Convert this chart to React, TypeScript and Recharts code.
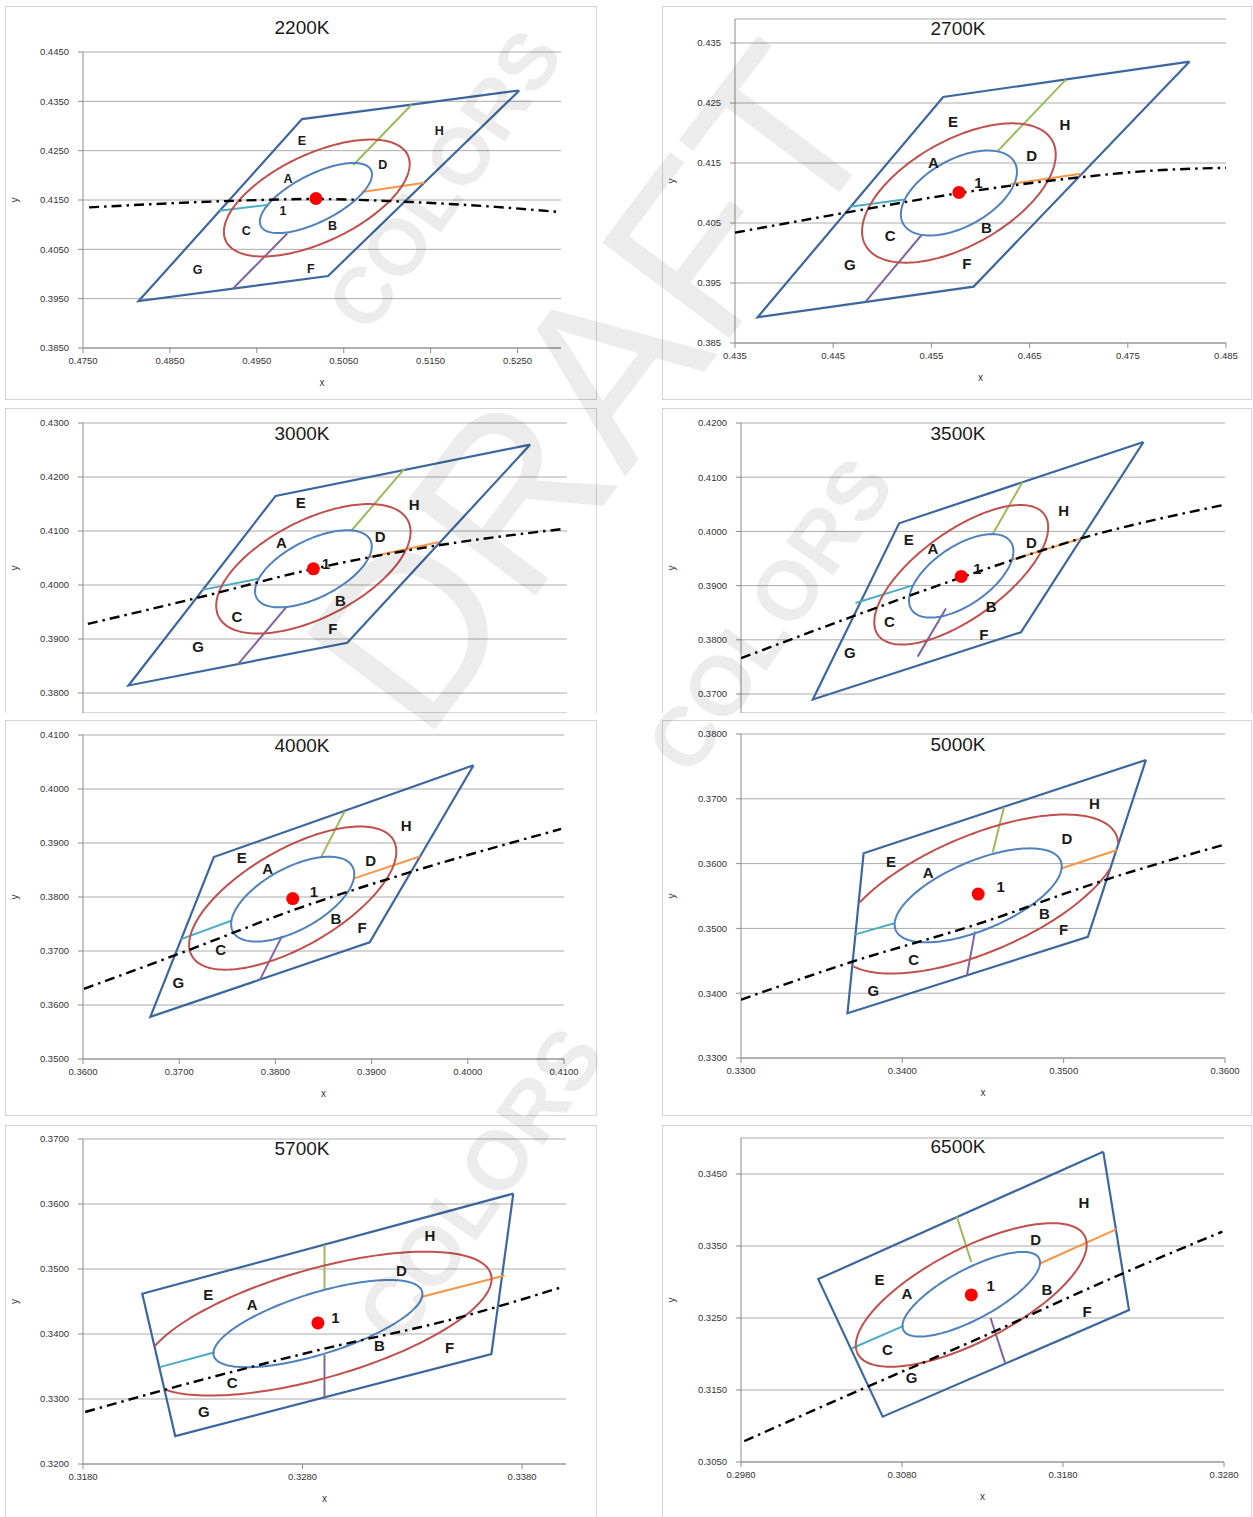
import React from 'react';
import { ScatterChart, Scatter, XAxis, YAxis, CartesianGrid } from 'recharts';

type P = [number, number];

// ---- data ----
const cctNames = ['2200K', '2700K', '3000K', '3500K', '4000K', '5000K', '5700K', '6500K'];

const xDomains: P[] = [[0.475, 0.53], [0.435, 0.485], [0.41, 0.46], [0.38, 0.44], [0.36, 0.41], [0.33, 0.36], [0.318, 0.34], [0.298, 0.328]];
const yDomains: P[] = [[0.385, 0.445], [0.385, 0.439], [0.3763, 0.43], [0.3665, 0.42], [0.35, 0.41], [0.33, 0.38], [0.32, 0.37], [0.305, 0.35]];

const xTickSets: number[][] = [
  [0.475, 0.485, 0.495, 0.505, 0.515, 0.525],
  [0.435, 0.445, 0.455, 0.465, 0.475, 0.485],
  [0.41, 0.42, 0.43, 0.44, 0.45, 0.46],
  [0.38, 0.39, 0.4, 0.41, 0.42, 0.43, 0.44],
  [0.36, 0.37, 0.38, 0.39, 0.4, 0.41],
  [0.33, 0.34, 0.35, 0.36],
  [0.318, 0.328, 0.338],
  [0.298, 0.308, 0.318, 0.328],
];
const yTickSets: number[][] = [
  [0.385, 0.395, 0.405, 0.415, 0.425, 0.435, 0.445],
  [0.385, 0.395, 0.405, 0.415, 0.425, 0.435],
  [0.38, 0.39, 0.4, 0.41, 0.42, 0.43],
  [0.37, 0.38, 0.39, 0.4, 0.41, 0.42],
  [0.35, 0.36, 0.37, 0.38, 0.39, 0.4, 0.41],
  [0.33, 0.34, 0.35, 0.36, 0.37, 0.38],
  [0.32, 0.33, 0.34, 0.35, 0.36, 0.37],
  [0.305, 0.315, 0.325, 0.335, 0.345],
];
const tickDecimals = [4, 3, 4, 4, 4, 4, 4, 4];

// quadrangle corners: top-right, top-left, bottom-left, bottom-right
const quads: P[][] = [
  [[0.5252, 0.4372], [0.5002, 0.4314], [0.4814, 0.3945], [0.5032, 0.3996]],
  [[0.4813, 0.4319], [0.4562, 0.426], [0.4373, 0.3893], [0.4593, 0.3944]],
  [[0.4562, 0.426], [0.4299, 0.4165], [0.4147, 0.3814], [0.4373, 0.3893]],
  [[0.4299, 0.4165], [0.3996, 0.4015], [0.3889, 0.369], [0.4147, 0.3814]],
  [[0.4006, 0.4044], [0.3736, 0.3874], [0.367, 0.3578], [0.3898, 0.3716]],
  [[0.3551, 0.376], [0.3376, 0.3616], [0.3366, 0.3369], [0.3515, 0.3487]],
  [[0.3376, 0.3616], [0.3207, 0.3462], [0.3222, 0.3243], [0.3366, 0.3369]],
  [[0.3205, 0.3481], [0.3028, 0.3304], [0.3068, 0.3113], [0.3221, 0.3261]],
];

// ellipses: [cx, cy, x half-extent, y half-extent, tilt correlation]
const innerEllipses: number[][] = [
  [0.5018, 0.4154, 0.00645, 0.00711, 0.67],
  [0.4578, 0.41, 0.00591, 0.00708, 0.5],
  [0.4338, 0.403, 0.00603, 0.00714, 0.58],
  [0.4073, 0.3918, 0.00647, 0.0077, 0.59],
  [0.3818, 0.3796, 0.0064, 0.00786, 0.59],
  [0.3447, 0.3551, 0.00518, 0.00725, 0.62],
  [0.3287, 0.3416, 0.00476, 0.00671, 0.68],
  [0.3123, 0.3283, 0.00427, 0.00588, 0.75],
];
const outerEllipses: number[][] = [
  [0.5019, 0.4154, 0.01069, 0.01185, 0.58],
  [0.4578, 0.41, 0.00986, 0.01161, 0.55],
  [0.4338, 0.403, 0.01004, 0.01199, 0.57],
  [0.4073, 0.392, 0.01078, 0.01287, 0.68],
  [0.3818, 0.3798, 0.01077, 0.01326, 0.65],
  [0.3447, 0.3553, 0.00868, 0.01227, 0.62],
  [0.3287, 0.3416, 0.00791, 0.01107, 0.62],
  [0.3123, 0.3282, 0.00717, 0.00997, 0.7],
];

const centers: P[] = [
  [0.5018, 0.4153], [0.4578, 0.4101], [0.4338, 0.403], [0.4073, 0.3917],
  [0.3818, 0.3797], [0.3447, 0.3553], [0.3287, 0.3417], [0.3123, 0.3282],
];

// planckian locus (dash-dot)
const loci: P[][] = [
  [[0.4757, 0.4135], [0.4918, 0.4148], [0.5015, 0.4152], [0.5138, 0.4145], [0.5225, 0.4136], [0.5296, 0.4126]],
  [[0.435, 0.4034], [0.4462, 0.4067], [0.4579, 0.41], [0.4695, 0.4125], [0.4772, 0.4137], [0.485, 0.4142]],
  [[0.4105, 0.3928], [0.422, 0.3977], [0.4338, 0.403], [0.4469, 0.4074], [0.4597, 0.4104]],
  [[0.38, 0.3766], [0.394, 0.3844], [0.4073, 0.3915], [0.4224, 0.3988], [0.4402, 0.405]],
  [[0.3601, 0.363], [0.37, 0.3695], [0.3819, 0.3776], [0.3942, 0.3847], [0.4097, 0.3926]],
  [[0.33, 0.339], [0.3367, 0.3447], [0.3447, 0.3507], [0.3526, 0.3575], [0.3599, 0.3629]],
  [[0.3181, 0.328], [0.3217, 0.3314], [0.3287, 0.3375], [0.3352, 0.3426], [0.3399, 0.3473]],
  [[0.2982, 0.3079], [0.3059, 0.3155], [0.3123, 0.3217], [0.321, 0.3305], [0.3279, 0.337]],
];

const greenSegs: P[][] = [
  [[0.5061, 0.4221], [0.5128, 0.4343]], [[0.4617, 0.4169], [0.4687, 0.4289]],
  [[0.4377, 0.41], [0.4432, 0.4215]], [[0.4112, 0.3995], [0.4149, 0.4091]],
  [[0.3847, 0.3872], [0.3872, 0.3959]], [[0.3456, 0.3617], [0.3463, 0.3687]],
  [[0.329, 0.3469], [0.329, 0.3537]], [[0.3123, 0.3328], [0.3114, 0.3391]],
];
const orangeSegs: P[][] = [
  [[0.5071, 0.4166], [0.5143, 0.4185]], [[0.4631, 0.4115], [0.4702, 0.4132]],
  [[0.4396, 0.4052], [0.4467, 0.4079]], [[0.4134, 0.3947], [0.4224, 0.3988]],
  [[0.3881, 0.3834], [0.395, 0.3875]], [[0.3498, 0.3592], [0.3533, 0.3621]],
  [[0.3334, 0.3457], [0.3372, 0.349]], [[0.3165, 0.3325], [0.3213, 0.3373]],
];
const cyanSegs: P[][] = [
  [[0.4907, 0.4128], [0.4962, 0.414]], [[0.4467, 0.4077], [0.4522, 0.4089]],
  [[0.4223, 0.3991], [0.4282, 0.4012]], [[0.3942, 0.3868], [0.4012, 0.39]],
  [[0.3702, 0.3722], [0.3754, 0.3756]], [[0.337, 0.349], [0.3395, 0.3508]],
  [[0.3215, 0.3349], [0.324, 0.3372]], [[0.3049, 0.3208], [0.3081, 0.3239]],
];
const purpleSegs: P[][] = [
  [[0.4985, 0.4082], [0.4923, 0.3971]], [[0.454, 0.403], [0.4483, 0.3919]],
  [[0.431, 0.3959], [0.426, 0.3853]], [[0.4054, 0.3858], [0.4019, 0.3769]],
  [[0.3807, 0.3728], [0.3784, 0.3647]], [[0.3445, 0.3495], [0.344, 0.3427]],
  [[0.329, 0.3368], [0.329, 0.33]], [[0.3135, 0.325], [0.3144, 0.3188]],
];

const labelSets: [string, number, number][][] = [
  [['E', 0.5002, 0.427], ['H', 0.516, 0.4289], ['D', 0.5095, 0.422], ['A', 0.4986, 0.4192], ['1', 0.498, 0.4128], ['B', 0.5037, 0.4097], ['C', 0.4938, 0.4088], ['G', 0.4882, 0.4009], ['F', 0.5012, 0.4011]],
  [['E', 0.4572, 0.4219], ['H', 0.4686, 0.4214], ['A', 0.4552, 0.4151], ['D', 0.4652, 0.4163], ['1', 0.4598, 0.4118], ['B', 0.4606, 0.4043], ['C', 0.4508, 0.403], ['G', 0.4467, 0.3981], ['F', 0.4586, 0.3983]],
  [['E', 0.4325, 0.4152], ['H', 0.4442, 0.4149], ['A', 0.4305, 0.4078], ['D', 0.4407, 0.4089], ['1', 0.4351, 0.4039], ['B', 0.4366, 0.3971], ['C', 0.4259, 0.3942], ['F', 0.4358, 0.3919], ['G', 0.4219, 0.3887]],
  [['E', 0.4008, 0.3986], ['A', 0.4038, 0.3968], ['H', 0.42, 0.4038], ['D', 0.416, 0.398], ['1', 0.4093, 0.3931], ['B', 0.411, 0.3861], ['C', 0.3984, 0.3834], ['F', 0.4101, 0.381], ['G', 0.3935, 0.3777]],
  [['E', 0.3765, 0.3873], ['A', 0.3792, 0.3852], ['H', 0.3936, 0.3932], ['D', 0.3899, 0.3867], ['1', 0.384, 0.381], ['B', 0.3863, 0.3761], ['F', 0.389, 0.3744], ['C', 0.3743, 0.3702], ['G', 0.3699, 0.3641]],
  [['H', 0.3519, 0.3693], ['D', 0.3502, 0.3639], ['E', 0.3393, 0.3604], ['A', 0.3416, 0.3587], ['1', 0.3461, 0.3565], ['B', 0.3488, 0.3523], ['F', 0.35, 0.3499], ['C', 0.3407, 0.3452], ['G', 0.3382, 0.3404]],
  [['H', 0.3338, 0.3551], ['D', 0.3325, 0.3497], ['E', 0.3237, 0.3461], ['A', 0.3257, 0.3446], ['1', 0.3295, 0.3425], ['B', 0.3315, 0.3383], ['F', 0.3347, 0.3379], ['C', 0.3248, 0.3326], ['G', 0.3235, 0.3281]],
  [['H', 0.3193, 0.341], ['D', 0.3163, 0.3359], ['E', 0.3066, 0.3304], ['A', 0.3083, 0.3284], ['1', 0.3135, 0.3295], ['B', 0.317, 0.3289], ['F', 0.3195, 0.3259], ['C', 0.3071, 0.3206], ['G', 0.3086, 0.3168]],
];

// ---- layout (page pixels) ----
const layout = [
  { left: 5, top: 6, w: 592, h: 394, chartH: 394, yw: 78, m: { top: 46, right: 36, bottom: 12, left: 0 }, titleTop: 21, cut: false, letter: 12.5 },
  { left: 662, top: 6, w: 590, h: 394, chartH: 394, yw: 73, m: { top: 13, right: 26, bottom: 17, left: 0 }, titleTop: 22, cut: false, letter: 15 },
  { left: 5, top: 408, w: 592, h: 305, chartH: 305, yw: 78, m: { top: 15, right: 30, bottom: 0, left: 0 }, titleTop: 25, cut: true, letter: 15 },
  { left: 662, top: 408, w: 590, h: 305, chartH: 305, yw: 79, m: { top: 15, right: 27, bottom: 0, left: 0 }, titleTop: 25, cut: true, letter: 15 },
  { left: 5, top: 720, w: 592, h: 396, chartH: 396, yw: 78, m: { top: 15, right: 33, bottom: 17, left: 0 }, titleTop: 25, cut: false, letter: 15 },
  { left: 662, top: 720, w: 590, h: 396, chartH: 396, yw: 79, m: { top: 14, right: 27, bottom: 18, left: 0 }, titleTop: 24, cut: false, letter: 15 },
  { left: 5, top: 1125, w: 592, h: 400, chartH: 392, yw: 78, m: { top: 14, right: 31, bottom: 13, left: 0 }, titleTop: 23, cut: false, letter: 15 },
  { left: 662, top: 1125, w: 590, h: 400, chartH: 392, yw: 79, m: { top: 13, right: 28, bottom: 15, left: 0 }, titleTop: 21, cut: false, letter: 15 },
];

// watermarks: text, centre x, centre y, size, angle, weight
const watermarks: [string, number, number, number, number, string][] = [
  ['DRAFT', 592, 388, 232, -53, 'normal'],
  ['COLORS', 445, 180, 80, -55, 'bold'],
  ['COLORS', 770, 615, 84, -55, 'bold'],
  ['COLORS', 480, 1185, 84, -55, 'bold'],
];

const FONT = '"Liberation Sans", Arial, sans-serif';
const QUAD_COLOR = '#3c679e';

const toPts = (arr: P[]) => arr.map(([x, y]) => ({ x, y }));

const cross = (a: P, b: P, p: P) => (b[0] - a[0]) * (p[1] - a[1]) - (b[1] - a[1]) * (p[0] - a[0]);

// ellipse outline, split where it leaves the quadrangle
function ellipseRuns(e: number[], quad: P[]) {
  const [cx, cy, rx, ry, rho] = e;
  const phi = Math.acos(rho);
  const inside = (p: P) => {
    for (let i = 0; i < 4; i++) {
      const a = quad[i];
      const b = quad[(i + 1) % 4];
      if (Math.sign(cross(a, b, p)) !== Math.sign(cross(a, b, [cx, cy]))) return false;
    }
    return true;
  };
  const runs: { x: number; y: number }[][] = [];
  let cur: { x: number; y: number }[] = [];
  for (let i = 0; i <= 200; i++) {
    const t = Math.PI + (i / 200) * 2 * Math.PI;
    const p: P = [cx + rx * Math.cos(t), cy + ry * Math.cos(t - phi)];
    if (inside(p)) cur.push({ x: p[0], y: p[1] });
    else if (cur.length) { runs.push(cur); cur = []; }
  }
  if (cur.length) runs.push(cur);
  return runs;
}

const NoDot = () => <g />;
const RedDot = (props: any) => <circle cx={props.cx} cy={props.cy} r={6.5} fill="#ff0000" />;

const lineSeries = (key: string, data: { x: number; y: number }[], stroke: string, width: number, dash?: string, joint: any = 'linear') => (
  <Scatter
    key={key}
    data={data}
    shape={NoDot}
    line={{ stroke, strokeWidth: width, strokeDasharray: dash }}
    lineJointType={joint}
    fill={stroke}
    isAnimationActive={false}
  />
);

const Panel: React.FC<{ i: number }> = ({ i }) => {
  const L = layout[i];
  const quad = quads[i];
  const dec = tickDecimals[i];
  const tickStyle = { fontSize: 9.5, fill: '#333', fontFamily: FONT };
  const Letter = (props: any) => (
    <text x={props.cx} y={props.cy} textAnchor="middle" dominantBaseline="central" fontSize={L.letter} fontWeight="bold" fontFamily={FONT} fill="#1a1a1a">
      {props.payload.t}
    </text>
  );
  return (
    <div
      style={{
        position: 'absolute', left: L.left, top: L.top, width: L.w, height: L.h, overflow: 'hidden',
        border: '1px solid #d4d4d4', borderBottom: L.cut ? 'none' : '1px solid #d4d4d4', boxSizing: 'border-box', background: '#fff',
      }}
    >
      <div style={{ position: 'absolute', left: -1, top: -1 }}>
        <ScatterChart width={L.w} height={L.chartH} margin={L.m}>
          <CartesianGrid horizontal vertical={false} stroke="#ababab" strokeWidth={1} />
          <XAxis
            type="number" dataKey="x" domain={xDomains[i]} ticks={xTickSets[i]} allowDataOverflow height={40} hide={L.cut}
            tick={tickStyle} tickFormatter={(v: number) => v.toFixed(dec)} tickSize={5} tickMargin={4}
            axisLine={{ stroke: '#8c8c8c' }} tickLine={{ stroke: '#8c8c8c' }}
            label={{ value: 'x', position: 'insideBottom', offset: 2, style: { fontSize: 10, fill: '#333', fontFamily: FONT } }}
          />
          <YAxis
            type="number" dataKey="y" domain={yDomains[i]} ticks={yTickSets[i]} allowDataOverflow width={L.yw}
            tick={tickStyle} tickFormatter={(v: number) => v.toFixed(dec)} tickSize={5} tickMargin={9}
            axisLine={{ stroke: '#8c8c8c' }} tickLine={{ stroke: '#8c8c8c' }}
            label={{ value: 'y', angle: -90, position: 'insideLeft', offset: 9, style: { fontSize: 10, fill: '#333', fontFamily: FONT, textAnchor: 'middle' } }}
          />
          {lineSeries('quad', toPts([...quad, quad[0]]), QUAD_COLOR, 2.2)}
          {lineSeries('green', toPts(greenSegs[i]), '#9bbb59', 2)}
          {lineSeries('orange', toPts(orangeSegs[i]), '#f79646', 2)}
          {lineSeries('cyan', toPts(cyanSegs[i]), '#4bacc6', 2)}
          {lineSeries('purple', toPts(purpleSegs[i]), '#8064a2', 2)}
          {ellipseRuns(outerEllipses[i], quad).map((run, k) => lineSeries('outer' + k, run, '#c0504d', 2))}
          {ellipseRuns(innerEllipses[i], quad).map((run, k) => lineSeries('inner' + k, run, '#4f81bd', 2))}
          {lineSeries('locus', toPts(loci[i]), '#000000', 2.4, '10 5 2.5 5', 'monotoneX')}
          <Scatter data={[{ x: centers[i][0], y: centers[i][1] }]} shape={RedDot} fill="#ff0000" isAnimationActive={false} />
          <Scatter data={labelSets[i].map(([t, x, y]) => ({ t, x, y }))} shape={Letter} fill="#000" isAnimationActive={false} />
        </ScatterChart>
      </div>
      <div
        style={{
          position: 'absolute', left: 0, top: L.titleTop - 12, width: L.w, textAlign: 'center',
          fontFamily: FONT, fontSize: 19, color: '#1a1a1a', lineHeight: '24px',
        }}
      >
        {cctNames[i]}
      </div>
    </div>
  );
};

const App: React.FC = () => {
  return (
    <div style={{ position: 'absolute', left: 0, top: 0, width: 1253, height: 1517, overflow: 'hidden', background: '#fff' }}>
      {cctNames.map((_, i) => (
        <Panel key={i} i={i} />
      ))}
      {watermarks.map(([text, cx, cy, size, angle, weight], k) => (
        <div
          key={k}
          style={{
            position: 'absolute', left: cx, top: cy, transform: `translate(-50%, -50%) rotate(${angle}deg)`,
            fontFamily: FONT, fontWeight: weight as any, fontSize: size, color: 'rgba(0,0,0,0.075)', whiteSpace: 'nowrap',
            pointerEvents: 'none', lineHeight: 1,
          }}
        >
          {text}
        </div>
      ))}
    </div>
  );
};

export default App;
